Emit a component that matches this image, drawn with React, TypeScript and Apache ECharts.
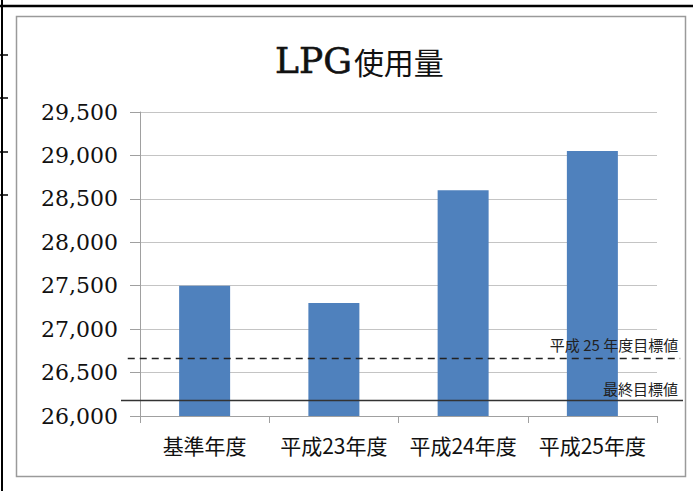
import React, { useEffect, useRef } from "react";
import * as echarts from "echarts";

const categories = ["基準年度", "平成23年度", "平成24年度", "平成25年度"];
const usage = [27500, 27300, 28600, 29050];
const yTicks = { min: 26000, max: 29500, interval: 500 };
const targetH25 = 26660;
const targetFinal = 26180;
const targetLabels = ["平成 25 年度目標値", "最終目標値"];
const titleParts = ["LPG", "使用量"];

export default function App() {
  const ref = useRef<HTMLDivElement>(null);
  useEffect(() => {
    if (!ref.current) return;
    const chart = echarts.init(ref.current, null, { renderer: "svg" });
    const gridTop = 112;
    const gridBottom = 75;
    chart.setOption({
      animation: false,
      backgroundColor: "#ffffff",
      title: {
        text: `{a|${titleParts[0]}}{b|${titleParts[1]}}`,
        left: 270,
        top: 37,
        textStyle: {
          rich: {
            a: { fontFamily: "DejaVu Serif", fontSize: 36, fontWeight: "normal", color: "#111", textBorderColor: "#111", textBorderWidth: 0.6 },
            b: { fontFamily: "Noto Sans CJK JP", fontSize: 30, fontWeight: "normal", color: "#111", padding: [1, 0, 0, 2] },
          },
        },
      },
      graphic: [
        { type: "rect", shape: { x: 16.5, y: 16.5, width: 669, height: 460 }, style: { fill: "#fff", stroke: "#9a9a9a", lineWidth: 1.5 }, z: -10 },
        { type: "line", shape: { x1: 0, y1: 6, x2: 693, y2: 6 }, style: { stroke: "#000", lineWidth: 2.5 }, z: -5 },
        { type: "line", shape: { x1: 2, y1: 0, x2: 2, y2: 491 }, style: { stroke: "#000", lineWidth: 2 }, z: -5 },
        { type: "line", shape: { x1: 0, y1: 55, x2: 8, y2: 55 }, style: { stroke: "#000", lineWidth: 1.5 }, z: -5 },
        { type: "line", shape: { x1: 0, y1: 98, x2: 8, y2: 98 }, style: { stroke: "#000", lineWidth: 1.5 }, z: -5 },
        { type: "line", shape: { x1: 0, y1: 152, x2: 8, y2: 152 }, style: { stroke: "#000", lineWidth: 1.5 }, z: -5 },
        { type: "line", shape: { x1: 0, y1: 195, x2: 8, y2: 195 }, style: { stroke: "#000", lineWidth: 1.5 }, z: -5 },
      ],
      grid: [
        { left: 140, right: 40, top: gridTop, bottom: gridBottom, containLabel: false },
        { left: 121, right: 14, top: gridTop, bottom: gridBottom, containLabel: false },
      ],
      xAxis: [
        {
          type: "category",
          gridIndex: 0,
          data: categories,
          axisLine: { lineStyle: { color: "#a0a0a0", width: 1 } },
          axisTick: { show: true, length: 7, lineStyle: { color: "#a0a0a0" } },
          axisLabel: { interval: 0, fontFamily: "Noto Sans CJK JP", fontSize: 21, color: "#111", margin: 18 },
        },
        { type: "value", gridIndex: 1, min: 0, max: 100, show: false },
      ],
      yAxis: [
        {
          type: "value",
          gridIndex: 0,
          min: yTicks.min,
          max: yTicks.max,
          interval: yTicks.interval,
          axisLine: { show: true, lineStyle: { color: "#a0a0a0", width: 1 } },
          axisTick: { show: true, length: 10, lineStyle: { color: "#a0a0a0" } },
          splitLine: { lineStyle: { color: "#c4c4c4", width: 1 } },
          axisLabel: {
            fontFamily: "DejaVu Serif",
            fontSize: 22,
            color: "#111",
            margin: 22,
            formatter: (v: number) => v.toLocaleString("en-US"),
          },
        },
        { type: "value", gridIndex: 1, min: yTicks.min, max: yTicks.max, show: false },
      ],
      series: [
        {
          type: "bar",
          xAxisIndex: 0,
          yAxisIndex: 0,
          data: usage,
          barWidth: 51,
          itemStyle: { color: "#4f81bd" },
        },
        {
          type: "line",
          xAxisIndex: 1,
          yAxisIndex: 1,
          data: [],
          z: 5,
          markLine: {
            silent: true,
            symbol: ["none", "none"],
            data: [
              [
                {
                  coord: [1.2, targetH25],
                  lineStyle: { type: [7, 5], color: "#222", width: 1.3 },
                  label: {
                    show: true,
                    position: "insideEndTop",
                    formatter: targetLabels[0],
                    fontFamily: "Noto Sans CJK JP",
                    fontSize: 15,
                    color: "#222",
                    distance: [2, 7],
                  },
                },
                { coord: [99.5, targetH25] },
              ],
              [
                {
                  coord: [0, targetFinal],
                  lineStyle: { type: "solid", color: "#333", width: 1.3 },
                  label: {
                    show: true,
                    position: "insideEndTop",
                    formatter: targetLabels[1],
                    fontFamily: "Noto Sans CJK JP",
                    fontSize: 15,
                    color: "#222",
                    distance: [5, 4],
                  },
                },
                { coord: [100, targetFinal] },
              ],
            ],
          },
        },
      ],
    });
    return () => chart.dispose();
  }, []);
  return (
    <div
      ref={ref}
      style={{ position: "fixed", left: 0, top: 0, width: 697, height: 491 }}
    />
  );
}
